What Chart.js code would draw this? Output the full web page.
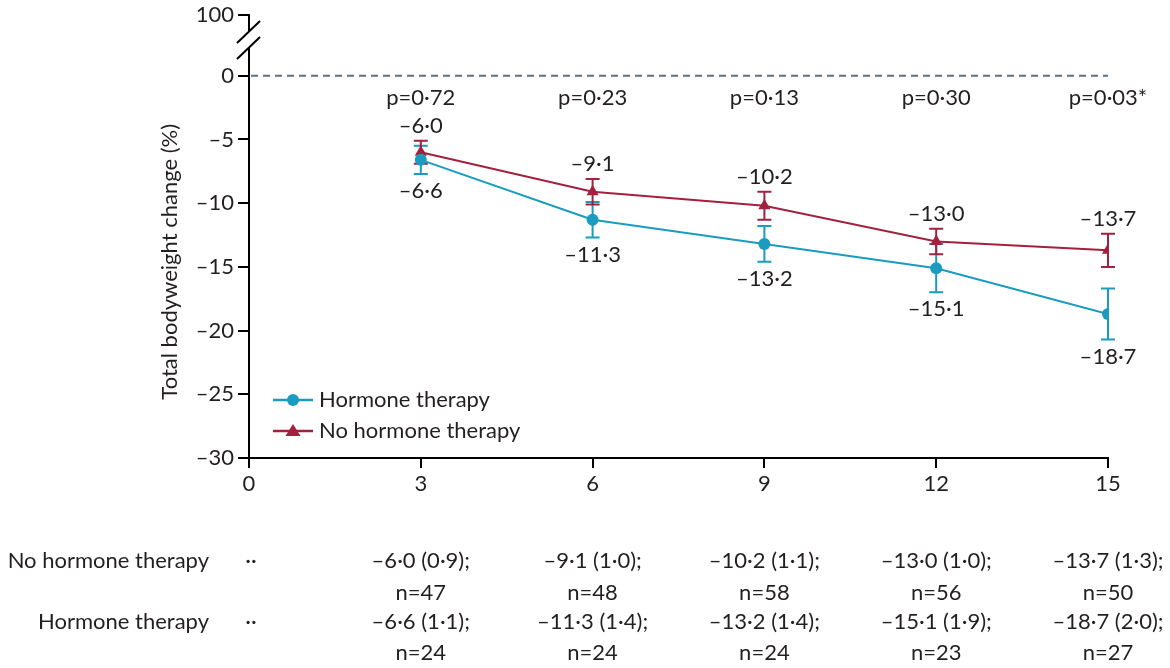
<!DOCTYPE html>
<html>
<head>
<meta charset="utf-8">
<script src="https://cdn.jsdelivr.net/npm/chart.js@4/dist/chart.umd.min.js"></script>
<style>
html,body{margin:0;padding:0;background:#fff;}
#wrap{width:1170px;height:668px;position:relative;}
</style>
</head>
<body>
<div id="wrap"><canvas id="c" width="1170" height="668"></canvas></div>
<script>
// ---- data ----
const months = [3, 6, 9, 12, 15];
const hormoneMean = [-6.6, -11.3, -13.2, -15.1, -18.7];
const hormoneSE = [1.1, 1.4, 1.4, 1.9, 2.0];
const hormoneN = [24, 24, 24, 23, 27];
const noHormoneMean = [-6.0, -9.1, -10.2, -13.0, -13.7];
const noHormoneSE = [0.9, 1.0, 1.1, 1.0, 1.3];
const noHormoneN = [47, 48, 58, 56, 50];
const pValues = ['p=0·72', 'p=0·23', 'p=0·13', 'p=0·30', 'p=0·03*'];
const xTickValues = [0, 3, 6, 9, 12, 15];
const xTickLabels = ['0', '3', '6', '9', '12', '15'];
const yTickValues = [-30, -25, -20, -15, -10, -5, 0];
const yTickLabels = ['–30', '–25', '–20', '–15', '–10', '–5', '0'];
const yBreakLabel = '100';
const seriesNames = ['Hormone therapy', 'No hormone therapy'];

// ---- style ----
const FONT = "Lato, 'Open Sans', sans-serif";
const TEXT = '#231f20';
const TEAL = '#1a9bc0';
const RED = '#a2213f';
const BREAK_POS = 4.77; // axis position of the broken "100" tick
const FS = 22;

const fmt = v => (v < 0 ? '–' : '') + Math.abs(v).toFixed(1).replace('.', '·');

function pts(xs, ys) { return xs.map((x, i) => ({ x: x, y: ys[i] })); }

const extras = {
  id: 'extras',
  beforeDatasetsDraw(chart) {
    const ctx = chart.ctx, xs = chart.scales.x, ys = chart.scales.y;
    ctx.save();
    // dashed zero line
    ctx.strokeStyle = '#5d6f7b';
    ctx.lineWidth = 2;
    ctx.setLineDash([7, 5]);
    ctx.beginPath();
    ctx.moveTo(xs.getPixelForValue(0) + 2, ys.getPixelForValue(0));
    ctx.lineTo(xs.getPixelForValue(15), ys.getPixelForValue(0));
    ctx.stroke();
    ctx.setLineDash([]);
    // error bars
    const series = [[hormoneMean, hormoneSE, TEAL], [noHormoneMean, noHormoneSE, RED]];
    series.forEach(([m, se, col]) => {
      ctx.strokeStyle = col;
      ctx.lineWidth = 2;
      months.forEach((mo, i) => {
        const x = xs.getPixelForValue(mo);
        const y1 = ys.getPixelForValue(m[i] + se[i]);
        const y2 = ys.getPixelForValue(m[i] - se[i]);
        ctx.beginPath();
        ctx.moveTo(x, y1); ctx.lineTo(x, y2);
        ctx.moveTo(x - 7, y1); ctx.lineTo(x + 7, y1);
        ctx.moveTo(x - 7, y2); ctx.lineTo(x + 7, y2);
        ctx.stroke();
      });
    });
    ctx.restore();
  },
  afterDraw(chart) {
    const ctx = chart.ctx, xs = chart.scales.x, ys = chart.scales.y;
    ctx.save();
    ctx.fillStyle = TEXT;
    ctx.font = FS + 'px ' + FONT;
    ctx.textAlign = 'center';
    ctx.textBaseline = 'middle';
    // p values
    months.forEach((mo, i) => {
      ctx.fillText(pValues[i], xs.getPixelForValue(mo), ys.getPixelForValue(-1.7));
    });
    // value labels
    months.forEach((mo, i) => {
      const x = xs.getPixelForValue(mo);
      const top = ys.getPixelForValue(noHormoneMean[i] + noHormoneSE[i]);
      ctx.fillText(fmt(noHormoneMean[i]), x, top - 15);
      const bot = ys.getPixelForValue(hormoneMean[i] - hormoneSE[i]);
      ctx.fillText(fmt(hormoneMean[i]), x, bot + 17);
    });
    // axis break
    const ax = chart.chartArea.left;
    const yb1 = 32, yb2 = 48;
    ctx.fillStyle = '#fff';
    ctx.fillRect(ax - 3, yb1, 6, yb2 - yb1);
    ctx.strokeStyle = '#000';
    ctx.lineWidth = 2;
    ctx.beginPath();
    ctx.moveTo(ax - 12, yb1 + 11); ctx.lineTo(ax + 11, yb1 - 11);
    ctx.moveTo(ax - 12, yb2 + 11); ctx.lineTo(ax + 11, yb2 - 11);
    ctx.stroke();
    // y axis title
    ctx.save();
    ctx.fillStyle = TEXT;
    ctx.translate(170, ys.getPixelForValue(-14.6));
    ctx.rotate(-Math.PI / 2);
    ctx.fillText('Total bodyweight change (%)', 0, 0);
    ctx.restore();
    // x axis title
    ctx.fillText('Time (months)', (xs.getPixelForValue(0) + xs.getPixelForValue(15)) / 2 + 3, 522);
    // legend
    const leg = [[seriesNames[0], TEAL, 'circle', 400], [seriesNames[1], RED, 'triangle', 431]];
    leg.forEach(([name, col, shape, ly]) => {
      ctx.strokeStyle = col; ctx.fillStyle = col; ctx.lineWidth = 2.5;
      ctx.beginPath(); ctx.moveTo(273, ly); ctx.lineTo(313, ly); ctx.stroke();
      ctx.beginPath();
      if (shape === 'circle') { ctx.arc(293, ly, 6, 0, Math.PI * 2); }
      else { ctx.moveTo(293, ly - 7); ctx.lineTo(300.5, ly + 5); ctx.lineTo(285.5, ly + 5); ctx.closePath(); }
      ctx.fill();
      ctx.fillStyle = TEXT;
      ctx.textAlign = 'left';
      ctx.font = FS + 'px ' + FONT;
      ctx.fillText(name, 319, ly);
    });
    // table
    ctx.font = FS + 'px ' + FONT;
    ctx.fillStyle = TEXT;
    const rows = [[seriesNames[1], noHormoneMean, noHormoneSE, noHormoneN, 561, 593],
                  [seriesNames[0], hormoneMean, hormoneSE, hormoneN, 622, 653]];
    rows.forEach(([name, m, se, n, y1, y2]) => {
      ctx.textAlign = 'right';
      ctx.fillText(name, 209, y1);
      ctx.textAlign = 'center';
      ctx.fillText('··', xs.getPixelForValue(0) + 2, y1);
      months.forEach((mo, i) => {
        const x = xs.getPixelForValue(mo);
        ctx.fillText(fmt(m[i]) + ' (' + fmt(se[i]) + ');', x, y1);
        ctx.fillText('n=' + n[i], x, y2);
      });
    });
    ctx.restore();
  }
};

Chart.defaults.font.family = FONT;
Chart.defaults.color = TEXT;

new Chart(document.getElementById('c'), {
  type: 'line',
  data: {
    datasets: [
      {
        label: seriesNames[0],
        data: pts(months, hormoneMean),
        borderColor: TEAL, backgroundColor: TEAL,
        borderWidth: 2, pointStyle: 'circle', pointRadius: 6,
        pointBorderWidth: 0, tension: 0
      },
      {
        label: seriesNames[1],
        data: pts(months, noHormoneMean),
        borderColor: RED, backgroundColor: RED,
        borderWidth: 2, pointStyle: 'triangle', pointRadius: 7,
        pointBorderWidth: 0, tension: 0
      }
    ]
  },
  options: {
    responsive: false,
    animation: false,
    events: [],
    layout: { padding: { left: 0, right: 62, top: 13, bottom: 0 } },
    plugins: { legend: { display: false }, tooltip: { enabled: false } },
    scales: {
      x: {
        type: 'linear', min: 0, max: 15,
        afterBuildTicks: s => { s.ticks = xTickValues.map(v => ({ value: v })); },
        afterFit: s => { s.height = 210; },
        ticks: {
          callback: (v) => xTickLabels[xTickValues.indexOf(v)],
          font: { size: 22, lineHeight: 1 }, color: TEXT, padding: 5, maxRotation: 0, autoSkip: false
        },
        grid: { drawOnChartArea: false, drawTicks: true, tickLength: 10, color: '#000', lineWidth: 2 },
        border: { color: '#000', width: 2 }
      },
      y: {
        type: 'linear', min: -30, max: BREAK_POS,
        afterBuildTicks: s => { s.ticks = yTickValues.concat([BREAK_POS]).map(v => ({ value: v })); },
        afterFit: s => { s.width = 249; },
        ticks: {
          callback: (v) => { const i = yTickValues.indexOf(v); return i >= 0 ? yTickLabels[i] : yBreakLabel; },
          font: { size: 22, lineHeight: 1 }, color: TEXT, padding: 4, autoSkip: false
        },
        grid: { drawOnChartArea: false, drawTicks: true, tickLength: 11, color: '#000', lineWidth: 2 },
        border: { color: '#000', width: 2 }
      }
    }
  },
  plugins: [extras]
});
</script>
</body>
</html>
